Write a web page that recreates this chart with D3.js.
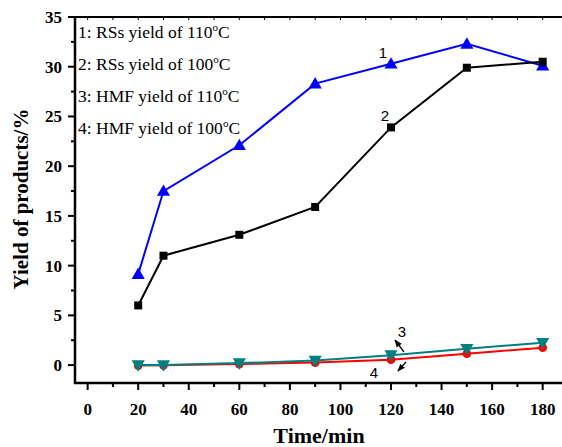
<!DOCTYPE html>
<html><head><meta charset="utf-8">
<script src="https://cdn.jsdelivr.net/npm/d3@7"></script>
<style>body{margin:0;background:#fff}svg{display:block}</style>
</head><body><svg id="c" width="562" height="447"></svg>
<script>
const times = [20, 30, 60, 90, 120, 150, 180];
const rss110 = [9.15, 17.5, 22.1, 28.3, 30.3, 32.3, 30.1];
const rss100 = [6.0, 11.0, 13.1, 15.9, 23.9, 29.9, 30.5];
const hmf110 = [0.0, 0.0, 0.2, 0.45, 1.0, 1.65, 2.25];
const hmf100 = [-0.05, -0.02, 0.1, 0.25, 0.55, 1.15, 1.75];
const xTicks = [0, 20, 40, 60, 80, 100, 120, 140, 160, 180];
const yTicks = [0, 5, 10, 15, 20, 25, 30, 35];
const legendLines = ["1: RSs yield of 110", "2: RSs yield of 100", "3: HMF yield of 110", "4: HMF yield of 100"];

const svg = d3.select("#c");
const x = d3.scaleLinear().domain([-5, 190]).range([75, 75 + 195 * 2.528]);
const y = d3.scaleLinear().domain([-1.8, 35]).range([383, 17]);
const serif = "'Liberation Serif','Times New Roman',serif";
const sans = "'Liberation Sans',Arial,sans-serif";

// frame
svg.append("line").attr("x1", 75).attr("x2", 562).attr("y1", 17).attr("y2", 17).attr("stroke", "#000").attr("stroke-width", 2);
svg.append("g").selectAll("line").data(d3.range(0, 191, 10)).join("line")
  .attr("x1", d => x(d)).attr("x2", d => x(d)).attr("y1", 17).attr("y2", 20).attr("stroke", "#000").attr("stroke-width", 1);

// x axis
const xAxis = svg.append("g").attr("transform", "translate(0,383)");
xAxis.append("line").attr("x1", 74).attr("x2", 562).attr("stroke", "#000").attr("stroke-width", 2.5);
xAxis.selectAll(".mj").data(xTicks).join("line").attr("class", "mj")
  .attr("x1", d => x(d)).attr("x2", d => x(d)).attr("y1", 0).attr("y2", 7).attr("stroke", "#000").attr("stroke-width", 2);
xAxis.selectAll(".mn").data(d3.range(10, 190, 20)).join("line").attr("class", "mn")
  .attr("x1", d => x(d)).attr("x2", d => x(d)).attr("y1", 0).attr("y2", 4).attr("stroke", "#000").attr("stroke-width", 2);
xAxis.selectAll("text").data(xTicks).join("text")
  .attr("x", d => x(d)).attr("y", 32).attr("text-anchor", "middle")
  .attr("font-family", serif).attr("font-weight", "bold").attr("font-size", 17).text(d => d);

// y axis
const yAxis = svg.append("g").attr("transform", "translate(75,0)");
yAxis.append("line").attr("y1", 16).attr("y2", 384).attr("stroke", "#000").attr("stroke-width", 2.5);
yAxis.selectAll(".mj").data(yTicks).join("line").attr("class", "mj")
  .attr("y1", d => y(d)).attr("y2", d => y(d)).attr("x1", 0).attr("x2", -7).attr("stroke", "#000").attr("stroke-width", 2);
yAxis.selectAll(".mn").data(d3.range(2.5, 35, 5)).join("line").attr("class", "mn")
  .attr("y1", d => y(d)).attr("y2", d => y(d)).attr("x1", 0).attr("x2", -4).attr("stroke", "#000").attr("stroke-width", 2);
yAxis.selectAll("text").data(yTicks).join("text")
  .attr("x", -13).attr("y", d => y(d) + 6).attr("text-anchor", "end")
  .attr("font-family", serif).attr("font-weight", "bold").attr("font-size", 17).text(d => d);

// axis titles
svg.append("text").attr("x", 319).attr("y", 443).attr("text-anchor", "middle")
  .attr("font-family", serif).attr("font-weight", "bold").attr("font-size", 22).text("Time/min");
svg.append("text").attr("transform", "translate(28,199) rotate(-90)").attr("text-anchor", "middle")
  .attr("font-family", serif).attr("font-weight", "bold").attr("font-size", 21).text("Yield of products/%");

// series
const series = [
  {v: rss110, color: "#0000ff", sym: d3.symbolTriangle, size: 75, rot: 0},
  {v: rss100, color: "#000000", sym: d3.symbolSquare, size: 64, rot: 0},
  {v: hmf100, color: "#ff0000", sym: d3.symbolCircle, size: 60, rot: 0},
  {v: hmf110, color: "#008080", sym: d3.symbolTriangle, size: 75, rot: 180}
];
const line = d3.line().x(d => x(d[0])).y(d => y(d[1]));
series.forEach(s => {
  const pts = times.map((t, i) => [t, s.v[i]]);
  svg.append("path").attr("d", line(pts)).attr("fill", "none").attr("stroke", s.color).attr("stroke-width", 2);
  svg.append("g").selectAll("path").data(pts).join("path")
    .attr("d", d3.symbol().type(s.sym).size(s.size))
    .attr("transform", d => `translate(${x(d[0])},${y(d[1]) + (s.sym === d3.symbolTriangle ? (s.rot ? -1 : 1) : 0)}) rotate(${s.rot})`)
    .attr("fill", s.color);
});

// curve labels
const lbl = [["1", 383, 58], ["2", 385, 121], ["3", 402, 337], ["4", 374, 378]];
svg.append("g").selectAll("text").data(lbl).join("text")
  .attr("x", d => d[1]).attr("y", d => d[2]).attr("text-anchor", "middle")
  .attr("font-family", sans).attr("font-size", 15).text(d => d[0]);

// arrows
const defs = svg.append("defs");
defs.append("marker").attr("id", "ah").attr("viewBox", "0 0 10 10").attr("refX", 9).attr("refY", 5)
  .attr("markerWidth", 6).attr("markerHeight", 6).attr("orient", "auto")
  .append("path").attr("d", "M0,1 L10,5 L0,9 Z").attr("fill", "#000");
[[404, 352, 395, 340], [406, 362, 398, 371]].forEach(a => {
  svg.append("line").attr("x1", a[0]).attr("y1", a[1]).attr("x2", a[2]).attr("y2", a[3])
    .attr("stroke", "#000").attr("stroke-width", 1.3).attr("marker-end", "url(#ah)");
});

// legend text
legendLines.forEach((t, i) => {
  const tx = svg.append("text").attr("x", 78).attr("y", 38 + i * 32)
    .attr("font-family", serif).attr("font-size", 17.5);
  tx.append("tspan").text(t);
  tx.append("tspan").attr("dy", -7).attr("font-size", 11).text("o");
  tx.append("tspan").attr("dy", 7).text("C");
});
</script></body></html>
